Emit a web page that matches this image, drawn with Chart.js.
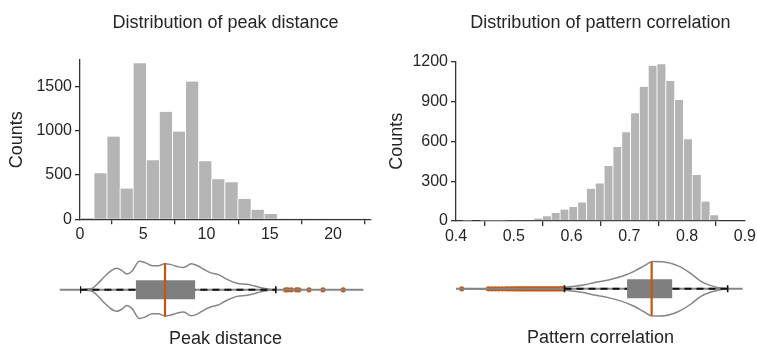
<!DOCTYPE html>
<html>
<head>
<meta charset="utf-8">
<script src="https://cdn.jsdelivr.net/npm/chart.js@4.4.0/dist/chart.umd.min.js"></script>
<style>
  html, body { margin: 0; padding: 0; background: #fff; }
  #wrap { position: relative; width: 757px; height: 349px; overflow: hidden; background: #fff; }
  #wrap canvas { position: absolute; }
</style>
</head>
<body>
<div id="wrap">
  <canvas id="histPeak" width="380" height="260" style="left:0;top:0"></canvas>
  <canvas id="histCorr" width="377" height="260" style="left:380px;top:0"></canvas>
  <canvas id="violinPeak" width="380" height="105" style="left:0;top:247px"></canvas>
  <canvas id="violinCorr" width="377" height="105" style="left:380px;top:246px"></canvas>
</div>
<script>
// ---- peak distance ----
const peakBinCenters = [0.56, 1.60, 2.63, 3.67, 4.70, 5.74, 6.77, 7.81, 8.84, 9.88, 10.91,
    11.95, 12.98, 14.02, 15.05, 16.09, 17.12, 18.16, 19.19, 20.23, 21.26, 22.30];
const peakCounts = [15, 520, 935, 347, 1764, 667, 1214, 991, 1557, 656, 452,
    418, 230, 109, 60, 8, 4, 3, 2, 1, 1, 1];
const peakXRange = [0, 23];
const peakXTickVals = [0, 5, 10, 15, 20];
const peakYRange = [0, 1800];
const peakYTickVals = [0, 500, 1000, 1500];

const peakDensityX = [0, 0.5, 1.0, 1.5, 2.0, 2.5, 2.9, 3.3, 3.7, 4.1, 4.7, 5.2, 5.7, 6.2, 6.7,
    7.2, 7.7, 8.2, 8.8, 9.3, 9.8, 10.3, 11.0, 11.5, 12.4, 13.2, 13.8, 14.3, 15.0, 15.5];
const peakDensity = [0, 0.02, 0.06, 0.26, 0.49, 0.68, 0.75, 0.68, 0.55, 0.65, 1.0, 0.94, 0.84, 0.84, 0.91,
    0.88, 0.81, 0.78, 0.91, 0.84, 0.71, 0.6, 0.52, 0.39, 0.23, 0.19, 0.13, 0.07, 0.02, 0];
const peakBox = { q1: 4.42, median: 6.72, q3: 9.1, lo: 0.03, hi: 15.48, medianH: 0.94 };
const peakOutliers = [16.25, 16.43, 16.7, 17.1, 17.3, 18.1, 19.2, 20.8];
const peakAxisSpan = [-1.6, 22.4];

// ---- pattern correlation ----
const corrBinCenters = [0.4196, 0.4349, 0.4501, 0.4654, 0.4806, 0.4959, 0.5111, 0.5264, 0.5416, 0.5569,
    0.5721, 0.5874, 0.6026, 0.6179, 0.6331, 0.6484, 0.6636, 0.6789, 0.6941, 0.7094,
    0.7246, 0.7399, 0.7551, 0.7704, 0.7856, 0.8009, 0.8161, 0.8314, 0.8466];
const corrCounts = [1, 0, 1, 2, 2, 3, 4, 8, 18, 36,
    60, 86, 106, 140, 242, 283, 414, 557, 668, 811,
    1012, 1170, 1180, 1054, 911, 615, 346, 146, 43];
const corrXRange = [0.4, 0.9];
const corrXTickVals = [0.4, 0.5, 0.6, 0.7, 0.8, 0.9];
const corrYRange = [0, 1200];
const corrYTickVals = [0, 300, 600, 900, 1200];

const corrDensityX = [0.41, 0.55, 0.587, 0.62, 0.64, 0.662, 0.686, 0.709, 0.726, 0.740,
    0.760, 0.783, 0.806, 0.823, 0.841, 0.858, 0.87];
const corrDensity = [0, 0.01, 0.05, 0.13, 0.22, 0.30, 0.43, 0.62, 0.81, 0.95,
    0.94, 0.81, 0.54, 0.27, 0.11, 0.03, 0];
const corrBox = { q1: 0.696, median: 0.7385, q3: 0.774, lo: 0.5877, hi: 0.87, medianH: 0.94 };
const corrOutliers = [0.41, 0.456, 0.462, 0.468, 0.474, 0.48, 0.486, 0.49, 0.494, 0.498, 0.502,
    0.505, 0.508, 0.511, 0.514, 0.517, 0.52, 0.523, 0.526, 0.529, 0.532, 0.535, 0.538,
    0.541, 0.544, 0.547, 0.55, 0.553, 0.556, 0.559, 0.562, 0.565, 0.568, 0.571, 0.574,
    0.577, 0.58, 0.583, 0.586];
const corrAxisSpan = [0.4, 0.896];

const FONT = "'Liberation Sans', Arial, Helvetica, sans-serif";
const TXT = '#262626';
const AXIS = '#333333';
const BAR = '#b4b4b4';
const GRAY = '#858585';
const BOXGRAY = '#7f7f7f';
const ORANGE = '#c8550f';

// fixed tick positions, plain number labels
function fixedTicks(vals) {
    return (s) => { s.ticks = vals.map((v) => ({ value: v })); };
}

function histChart(id, centers, counts, xr, xv, yr, yv, o) {
    const axisGrid = { display: true, drawOnChartArea: false, drawTicks: true, tickLength: 5, color: AXIS, lineWidth: 1.3 };
    const tickFont = { family: FONT, size: 16 };
    return new Chart(document.getElementById(id), {
        type: 'bar',
        data: {
            datasets: [{
                data: centers.map((c, i) => ({ x: c, y: counts[i] })),
                backgroundColor: BAR,
                borderColor: '#ffffff',
                borderWidth: { left: 1, right: 0, top: 0, bottom: 0 },
                barPercentage: 1,
                categoryPercentage: 1,
            }],
        },
        options: {
            responsive: false,
            animation: false,
            layout: { padding: { top: 12, right: o.padRight, left: 0, bottom: 0 } },
            plugins: {
                legend: { display: false },
                tooltip: { enabled: false },
                title: {
                    display: true, text: o.title, fullSize: false, color: TXT,
                    font: { family: FONT, size: 18, weight: 'normal' },
                    padding: { top: 0, bottom: o.titleGap },
                },
            },
            scales: {
                x: {
                    type: 'linear', offset: false, min: xr[0], max: xr[1],
                    afterBuildTicks: fixedTicks(xv),
                    ticks: { font: tickFont, color: TXT, padding: 1, maxRotation: 0, autoSkip: false, callback: (v) => String(v) },
                    grid: axisGrid,
                    border: { color: AXIS, width: 1.3 },
                    afterFit: (s) => { s.height = o.xAxisH; },
                },
                y: {
                    min: yr[0], max: yr[1],
                    afterBuildTicks: fixedTicks(yv),
                    ticks: { font: tickFont, color: TXT, padding: 3, callback: (v) => String(v) },
                    grid: axisGrid,
                    border: { color: AXIS, width: 1.3 },
                    title: { display: true, text: 'Counts', color: TXT, font: { family: FONT, size: 18 }, padding: { top: 6, bottom: 0 } },
                    afterFit: (s) => { s.width = o.yAxisW; },
                },
            },
        },
    });
}

function violinChart(id, dx, dens, box, outliers, span, xr, o) {
    const line = (pts, extra) => Object.assign({ data: pts, showLine: true, pointRadius: 0, fill: false }, extra);
    return new Chart(document.getElementById(id), {
        type: 'scatter',
        data: {
            datasets: [
                // median
                line([{ x: box.median, y: -box.medianH }, { x: box.median, y: box.medianH }], { borderColor: ORANGE, borderWidth: 2.2 }),
                // whisker caps
                { data: [{ x: box.lo, y: 0 }, { x: box.hi, y: 0 }], showLine: false, pointStyle: 'line', rotation: 90,
                  pointRadius: 3.5, pointBorderColor: '#111', pointBorderWidth: 1.6 },
                // box
                line([{ x: box.q1, y: 0 }, { x: box.q3, y: 0 }], { borderColor: BOXGRAY, borderWidth: 19, borderCapStyle: 'butt' }),
                // whisker line
                line([{ x: box.lo, y: 0 }, { x: box.hi, y: 0 }], { borderColor: '#111', borderWidth: 2, borderDash: [7, 5] }),
                // axis line
                line([{ x: span[0], y: 0 }, { x: span[1], y: 0 }], { borderColor: GRAY, borderWidth: 2, clip: false }),
                // outliers
                { data: outliers.map((v) => ({ x: v, y: 0 })), showLine: false, pointRadius: 2.6,
                  pointBackgroundColor: ORANGE, pointBorderWidth: 0 },
                // violin outline
                line(dx.map((x, i) => ({ x: x, y: dens[i] })), { borderColor: GRAY, borderWidth: 1.5, cubicInterpolationMode: 'monotone' }),
                line(dx.map((x, i) => ({ x: x, y: -dens[i] })), { borderColor: GRAY, borderWidth: 1.5, cubicInterpolationMode: 'monotone' }),
            ],
        },
        options: {
            responsive: false,
            animation: false,
            layout: { padding: { top: 0, left: o.padLeft, right: o.padRight, bottom: 0 } },
            plugins: {
                legend: { display: false },
                tooltip: { enabled: false },
                title: {
                    display: true, position: 'bottom', text: o.label, fullSize: false, color: TXT,
                    font: { family: FONT, size: 18, weight: 'normal' },
                    padding: { top: 1.7, bottom: 1.7 },
                },
            },
            scales: {
                x: { type: 'linear', display: false, min: xr[0], max: xr[1] },
                y: { display: false, min: -1.3, max: 1.3 },
            },
        },
    });
}

histChart('histPeak', peakBinCenters, peakCounts, peakXRange, peakXTickVals, peakYRange, peakYTickVals,
    { title: 'Distribution of peak distance', padRight: 9, titleGap: 26.4, xAxisH: 40.7, yAxisW: 80 });
histChart('histCorr', corrBinCenters, corrCounts, corrXRange, corrXTickVals, corrYRange, corrYTickVals,
    { title: 'Distribution of pattern correlation', padRight: 11, titleGap: 28.1, xAxisH: 39, yAxisW: 76 });

violinChart('violinPeak', peakDensityX, peakDensity, peakBox, peakOutliers, peakAxisSpan, peakXRange,
    { label: 'Peak distance', padLeft: 80, padRight: 9 });
violinChart('violinCorr', corrDensityX, corrDensity, corrBox, corrOutliers, corrAxisSpan, corrXRange,
    { label: 'Pattern correlation', padLeft: 76, padRight: 12 });
</script>
</body>
</html>
